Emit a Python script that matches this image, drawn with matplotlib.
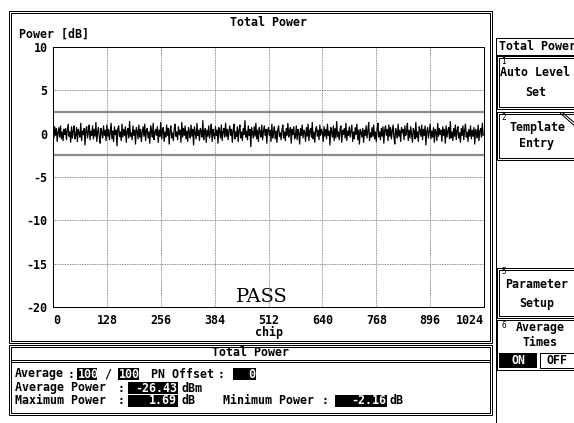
import numpy as np
import matplotlib
matplotlib.use("Agg")
import matplotlib.pyplot as plt
from matplotlib.patches import Rectangle

plt.rcParams["axes.unicode_minus"] = False

# ---------------- data ----------------
x_ticks = [0, 128, 256, 384, 512, 640, 768, 896, 1024]
y_ticks = [-20, -15, -10, -5, 0, 5, 10]
template_upper = 2.5
template_lower = -2.5
trace_step = 2  # one value every 2 chips
trace_vals = [
    0.3, -0.5, 0.8, -0.2, 0.6, -0.9, 0.1, 0.7, -0.4, 0.9, -0.6, 0.2, -0.8, 0.5, -0.1, 0.6,
    -0.7, 0.4, 1.1, -0.3, 0.2, -1.0, 0.8, -0.5, 0.3, 0.9, -0.6, -0.2, 0.7, -0.9, 0.5, 0.1,
    -0.4, 1.2, -0.8, 0.3, -0.1, 0.6, -1.3, 0.4, 0.8, -0.5, 0.2, 1.0, -0.7, 0.3, -0.2, 0.9,
    -0.6, 0.5, -0.3, 1.3, -0.9, 0.2, 0.7, -0.4, -1.1, 0.6, 0.1, -0.5, 0.9, -0.2, 0.4, -0.8,
    1.0, -0.3, 0.5, -0.7, 0.2, 1.2, -0.6, 0.3, -0.9, 0.8, -0.1, 0.4, -1.4, 0.6, 0.9, -0.3,
    0.2, -0.8, 1.1, -0.4, 0.5, -0.2, 0.8, -1.0, 0.3, 0.6, -0.5, 1.4, -0.3, 0.1, -0.7, 0.9,
    -0.2, 0.4, -1.2, 0.7, 0.3, -0.6, 1.0, -0.4, 0.5, -0.9, 0.2, 0.8, -0.3, 1.1, -0.8, 0.4,
    0.6, -0.5, 0.2, -1.1, 0.9, 0.3, -0.4, 1.2, -0.7, 0.1, 0.5, -0.2, 0.8, -1.0, 0.4, -0.3,
    1.3, -0.6, 0.3, 0.7, -0.9, 0.2, -0.4, 1.0, -0.2, 0.6, -1.2, 0.4, 0.9, -0.5, 0.1, -0.8,
    0.5, 1.1, -0.3, 0.2, -0.7, 0.8, -0.1, 0.4, -1.0, 1.3, -0.4, 0.6, -0.2, 0.9, -0.6, 0.3,
    -0.9, 0.7, 0.2, -0.5, 1.0, -0.3, 0.5, -1.3, 0.8, 0.1, -0.6, 1.2, -0.2, 0.4, -0.8, 0.6,
    0.3, -0.4, 1.5, -0.7, 0.2, 0.6, -1.0, 0.4, -0.3, 0.9, -0.5, 0.2, 1.1, -0.9, 0.5, -0.1,
    -0.6, 0.8, -0.2, 0.4, -1.1, 0.7, 0.3, -0.5, 1.0, -0.8, 0.2, 0.6, -0.4, 1.2, -0.3, 0.5,
    -0.7, 0.3, 0.9, -0.2, 0.5, -1.0, 0.4, 1.1, -0.6, 0.2, -0.3, 0.8, -0.9, 0.4, 1.0, -0.5,
    0.2, -0.8, 0.6, -0.1, 1.5, -0.4, 0.3, -0.7, 0.9, -0.2, 0.5, -1.5, 0.7, 0.1, -0.5, 0.8,
    -0.3, 1.2, -0.6, 0.4, -0.9, 0.7, 0.2, -0.4, 1.0, -0.7, 0.3, 0.9, -0.2, 0.5, -1.1, 0.4,
    0.7, -0.2, 0.4, -0.9, 1.1, -0.5, 0.2, 0.8, -0.6, 0.3, -1.0, 0.5, 0.9, -0.3, 0.1, -0.7,
    0.4, 1.0, -0.5, 0.2, -0.8, 0.6, -0.2, 1.2, -0.4, 0.3, 0.7, -1.1, 0.5, -0.1, 0.8, -0.6,
    -0.3, 0.9, -0.7, 0.5, 0.1, -1.2, 0.6, -0.2, 1.0, -0.5, 0.4, 0.2, -0.9, 0.7, -0.3, 1.1,
    -0.8, 0.3, 0.6, -0.4, 1.3, -0.6, 0.2, -1.0, 0.5, 0.8, -0.3, 0.4, -0.7, 1.0, -0.2, 0.5,
    0.1, -0.9, 0.8, -0.3, 0.5, -0.6, 1.1, -0.2, 0.3, -1.3, 0.7, 0.2, -0.4, 0.9, -0.8, 0.6,
    -0.5, 1.4, -0.3, 0.2, -0.7, 0.5, 0.9, -1.0, 0.4, -0.1, 0.6, -0.5, 1.2, -0.8, 0.3, -0.2,
    0.8, -0.4, 0.3, 1.0, -0.9, 0.2, -0.6, 0.7, -0.1, 1.1, -0.7, 0.4, -1.2, 0.5, 0.2, -0.4,
    0.6, -1.0, 0.4, -0.2, 0.9, -0.5, 0.3, 1.3, -0.8, 0.1, -0.4, 0.7, -0.3, 1.0, -0.6, 0.2,
    -0.9, 0.5, 1.2, -0.4, 0.2, -0.7, 0.6, -0.3, 0.8, -1.1, 0.4, 0.9, -0.2, 0.5, -0.8, 1.0,
    -0.3, 0.7, -0.6, 0.3, 1.0, -0.4, -1.2, 0.6, 0.2, -0.5, 1.1, -0.3, 0.4, -0.9, 0.7, 0.1,
    0.5, -0.7, 0.9, -0.2, 0.3, 1.2, -0.8, 0.4, -0.5, 0.8, -0.1, -1.0, 0.6, 0.3, -0.6, 1.3,
    -0.4, 0.2, -0.9, 0.8, 0.4, -0.3, 1.0, -0.7, 0.5, -0.2, 0.9, -1.3, 0.3, 0.7, -0.5, 0.2,
    1.1, -0.6, 0.3, -0.4, 0.7, -1.0, 0.5, 0.2, -0.8, 1.2, -0.3, 0.6, -0.1, 0.4, -0.9, 0.8,
    -0.2, 0.5, -1.1, 0.9, -0.4, 0.3, 0.7, -0.6, 1.4, -0.5, 0.2, -0.8, 0.6, -0.3, 1.0, -0.7,
    0.3, 0.8, -0.5, 0.1, -1.0, 0.6, -0.2, 0.9, -0.7, 0.4, 1.1, -0.4, 0.2, -0.9, 0.5, -0.3,
    0.9, -0.6, 0.4, -0.3, 0.7, -1.2, 0.5, 0.2, -0.5, 1.0, -0.8, 0.3, 0.6, -0.4, 1.2, -0.2,
]
chips = [i * trace_step for i in range(len(trace_vals))]

title = "Total Power"
avg_count = "100"
avg_total = "100"
pn_offset = "0"
avg_power = "-26.43"
max_power = "1.69"
min_power = "-2.16"

# ---------------- figure ----------------
W, H = 574, 423
fig = plt.figure(figsize=(W / 100, H / 100), dpi=100)
fig.patch.set_facecolor("white")

bg = fig.add_axes([0, 0, 1, 1])
bg.set_xlim(0, W)
bg.set_ylim(H, 0)
bg.axis("off")

MONO = "DejaVu Sans Mono"
FS = 8.4
PX = 0.72  # one pixel in points


def rect(x0, y0, x1, y1, lw=1, ec="black", z=1):
    bg.add_patch(Rectangle((x0, y0), x1 - x0, y1 - y0, fill=False,
                           edgecolor=ec, lw=lw * PX, zorder=z))


def drect(x0, y0, x1, y1):
    rect(x0, y0, x1, y1)
    rect(x0 + 2, y0 + 2, x1 - 2, y1 - 2)


def txt(x, y, s, ha="left", color="black", fs=FS, weight="bold", family=MONO, z=5):
    return bg.text(x, y, s, ha=ha, va="center", color=color, fontsize=fs,
                   fontweight=weight, family=family, zorder=z)


def inv(x0, x1, y, s, fs=FS):
    p = Rectangle((x0, y - 6), x1 - x0, 12, facecolor="black",
                  edgecolor="none", zorder=4)
    bg.add_patch(p)
    t = txt(x0 + 1, y, s, ha="left", color="white", fs=fs)
    t.set_clip_path(p)
    if len(s) * 7 < (x1 - x0):
        t.set_ha("right")
        t.set_x(x1 - 1)


# main frame
drect(9, 11, 492, 343)
txt(268, 23, title, ha="center")
txt(19, 34, "Power [dB]")

# bottom panel
drect(9, 345, 492, 415)
bg.plot([11, 490], [362, 362], color="black", lw=PX)
bg.plot([11, 490], [360, 360], color="black", lw=PX)
txt(251, 353, title, ha="center")

r1, r2, r3 = 374, 388, 401
txt(15, r1, "Average")
txt(67, r1, ":")
inv(77, 97, r1, avg_count)
txt(104, r1, "/")
inv(118, 139, r1, avg_total)
txt(151, r1, "PN Offset")
txt(217, r1, ":")
inv(233, 256, r1, pn_offset)
txt(15, r2, "Average Power")
txt(117, r2, ":")
inv(128, 178, r2, avg_power)
txt(181, r2, "dBm")
txt(15, r3, "Maximum Power")
txt(117, r3, ":")
inv(128, 178, r3, max_power)
txt(181, r3, "dB")
txt(223, r3, "Minimum Power")
txt(322, r3, ":")
inv(335, 387, r3, min_power)
txt(390, r3, "dB")

# soft key panel
bg.plot([496, 496], [38, H], color="black", lw=PX)
rect(496, 38, 580, 55)
txt(499, 46.5, title)
# key 1
drect(497, 56, 580, 109)
txt(501, 62, "1", fs=5.5, weight="normal")
txt(500, 72, "Auto Level")
txt(536, 92, "Set", ha="center")
# key 2
drect(497, 112, 580, 160)
bg.plot([560, 576], [113, 127], color="black", lw=PX)
bg.plot([563, 576], [113, 124], color="black", lw=PX)
txt(501, 117, "2", fs=5.5, weight="normal")
txt(537, 128, "Template", ha="center")
txt(537, 144, "Entry", ha="center")
# key 5
drect(497, 268, 580, 318)
txt(501, 272, "5", fs=5.5, weight="normal")
txt(537, 284, "Parameter", ha="center")
txt(537, 304, "Setup", ha="center")
# key 6
rect(497, 320, 580, 370)
txt(501, 325, "6", fs=5.5, weight="normal")
txt(540, 328, "Average", ha="center")
txt(540, 343, "Times", ha="center")
bg.add_patch(Rectangle((499, 353), 38, 15, facecolor="black", edgecolor="none", zorder=4))
txt(518, 360.5, "ON", ha="center", color="white")
rect(540, 353, 580, 368)
txt(557, 360.5, "OFF", ha="center")

# PASS
txt(262, 297, "PASS", ha="center", fs=14, weight="normal", family="DejaVu Serif")

# ---------------- plot ----------------
L, R, T, B = 53, 484, 47, 307
ax = fig.add_axes([L / W, 1 - B / H, (R - L) / W, (B - T) / H])
ax.set_facecolor("none")
ax.set_xlim(0, 1024)
ax.set_ylim(-20, 10)
ax.set_xticks(x_ticks)
ax.set_yticks(y_ticks)
ax.tick_params(length=0, labelsize=FS)
ax.tick_params(axis="y", pad=4)
ax.tick_params(axis="x", pad=5)
for lab in ax.get_xticklabels() + ax.get_yticklabels():
    lab.set_family(MONO)
    lab.set_fontweight("bold")
xl = ax.get_xticklabels()
xl[0].set_ha("left")
xl[-1].set_ha("right")
ax.grid(True, linestyle=(0, (1, 1)), color="#666666", lw=0.6)
for s in ax.spines.values():
    s.set_linewidth(PX)
    s.set_color("black")
ax.axhline(template_upper, color="#8c8c8c", lw=1.6)
ax.axhline(template_lower, color="#8c8c8c", lw=1.6)
ax.plot(chips, trace_vals, color="black", lw=0.9)
ax.set_xlabel("chip", family=MONO, fontweight="bold", fontsize=FS, labelpad=-1)

fig.savefig("out.png", dpi=100, facecolor="white")
